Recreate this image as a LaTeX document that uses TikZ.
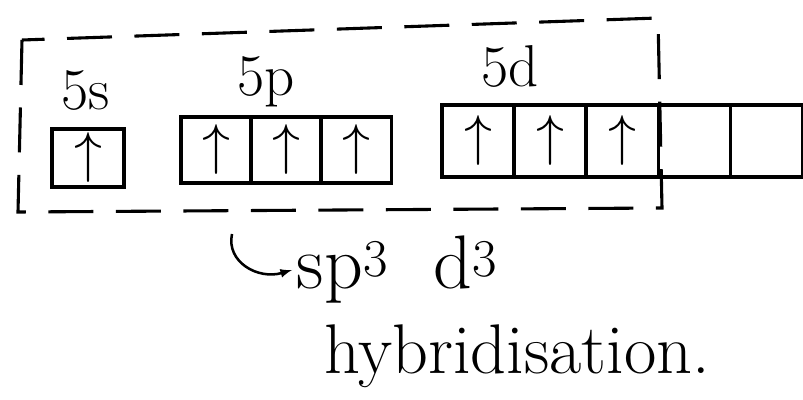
\documentclass[tikz,border=0pt]{standalone}
\usetikzlibrary{arrows, math, positioning}

\newcommand{\spinup}{\scalebox{1.6}{$\uparrow$}}

\tikzset{
orb/.style={draw, line width=2.2pt, outer sep=0pt, inner sep=0pt,
  minimum width=1.75cm, minimum height=1.65cm,
  font=\fontsize{24}{26}\selectfont},
shell/.style={font=\fontsize{42}{44}\selectfont},
}

\begin{document}
\begin{tikzpicture}[x=0.025cm,y=-0.025cm]
\tikzmath{
\ys=158;
\yp=150;
\yd=141;
}
\useasboundingbox (0,0) rectangle (803,400);

% 5s
\node[orb, minimum width=1.8cm, minimum height=1.45cm] (s1) at (88,\ys) {\spinup};
\node[shell] (ls) at (86,90) {5s};

% 5p
\node[orb] (p1) at (216,\yp) {\spinup};
\node[orb, right=0pt of p1] (p2) {\spinup};
\node[orb, right=0pt of p2] (p3) {\spinup};
\node[shell] (lp) at (266,82) {5p};

% 5d
\node[orb, minimum width=1.8cm, minimum height=1.8cm] (d1) at (478,\yd) {\spinup};
\node[orb, minimum width=1.8cm, minimum height=1.8cm, right=0pt of d1] (d2) {\spinup};
\node[orb, minimum width=1.8cm, minimum height=1.8cm, right=0pt of d2] (d3) {\spinup};
\node[orb, minimum width=1.8cm, minimum height=1.8cm, right=0pt of d3] (d4) {};
\node[orb, minimum width=1.8cm, minimum height=1.8cm, right=0pt of d4] (d5) {};
\node[shell] (ld) at (510,66) {5d};

% dashed frame round s, p and three d
\draw[line width=2.2pt, dash pattern=on 32pt off 16pt]
  (22,40) -- (18,212) -- (662,208) -- (658,18) -- cycle;

% result
\node[font=\fontsize{54}{56}\selectfont, anchor=west] (sp) at (292,270)
  {sp\textsuperscript{3}\ \ d\textsuperscript{3}};
\node[font=\fontsize{50}{52}\selectfont] (hy) at (517,356) {hybridisation.};

\coordinate (hk) at (232,234);
\draw[-latex, line width=1.8pt] (hk) .. controls (226,262) and (258,280) .. (sp.west);

\end{tikzpicture}
\end{document}
